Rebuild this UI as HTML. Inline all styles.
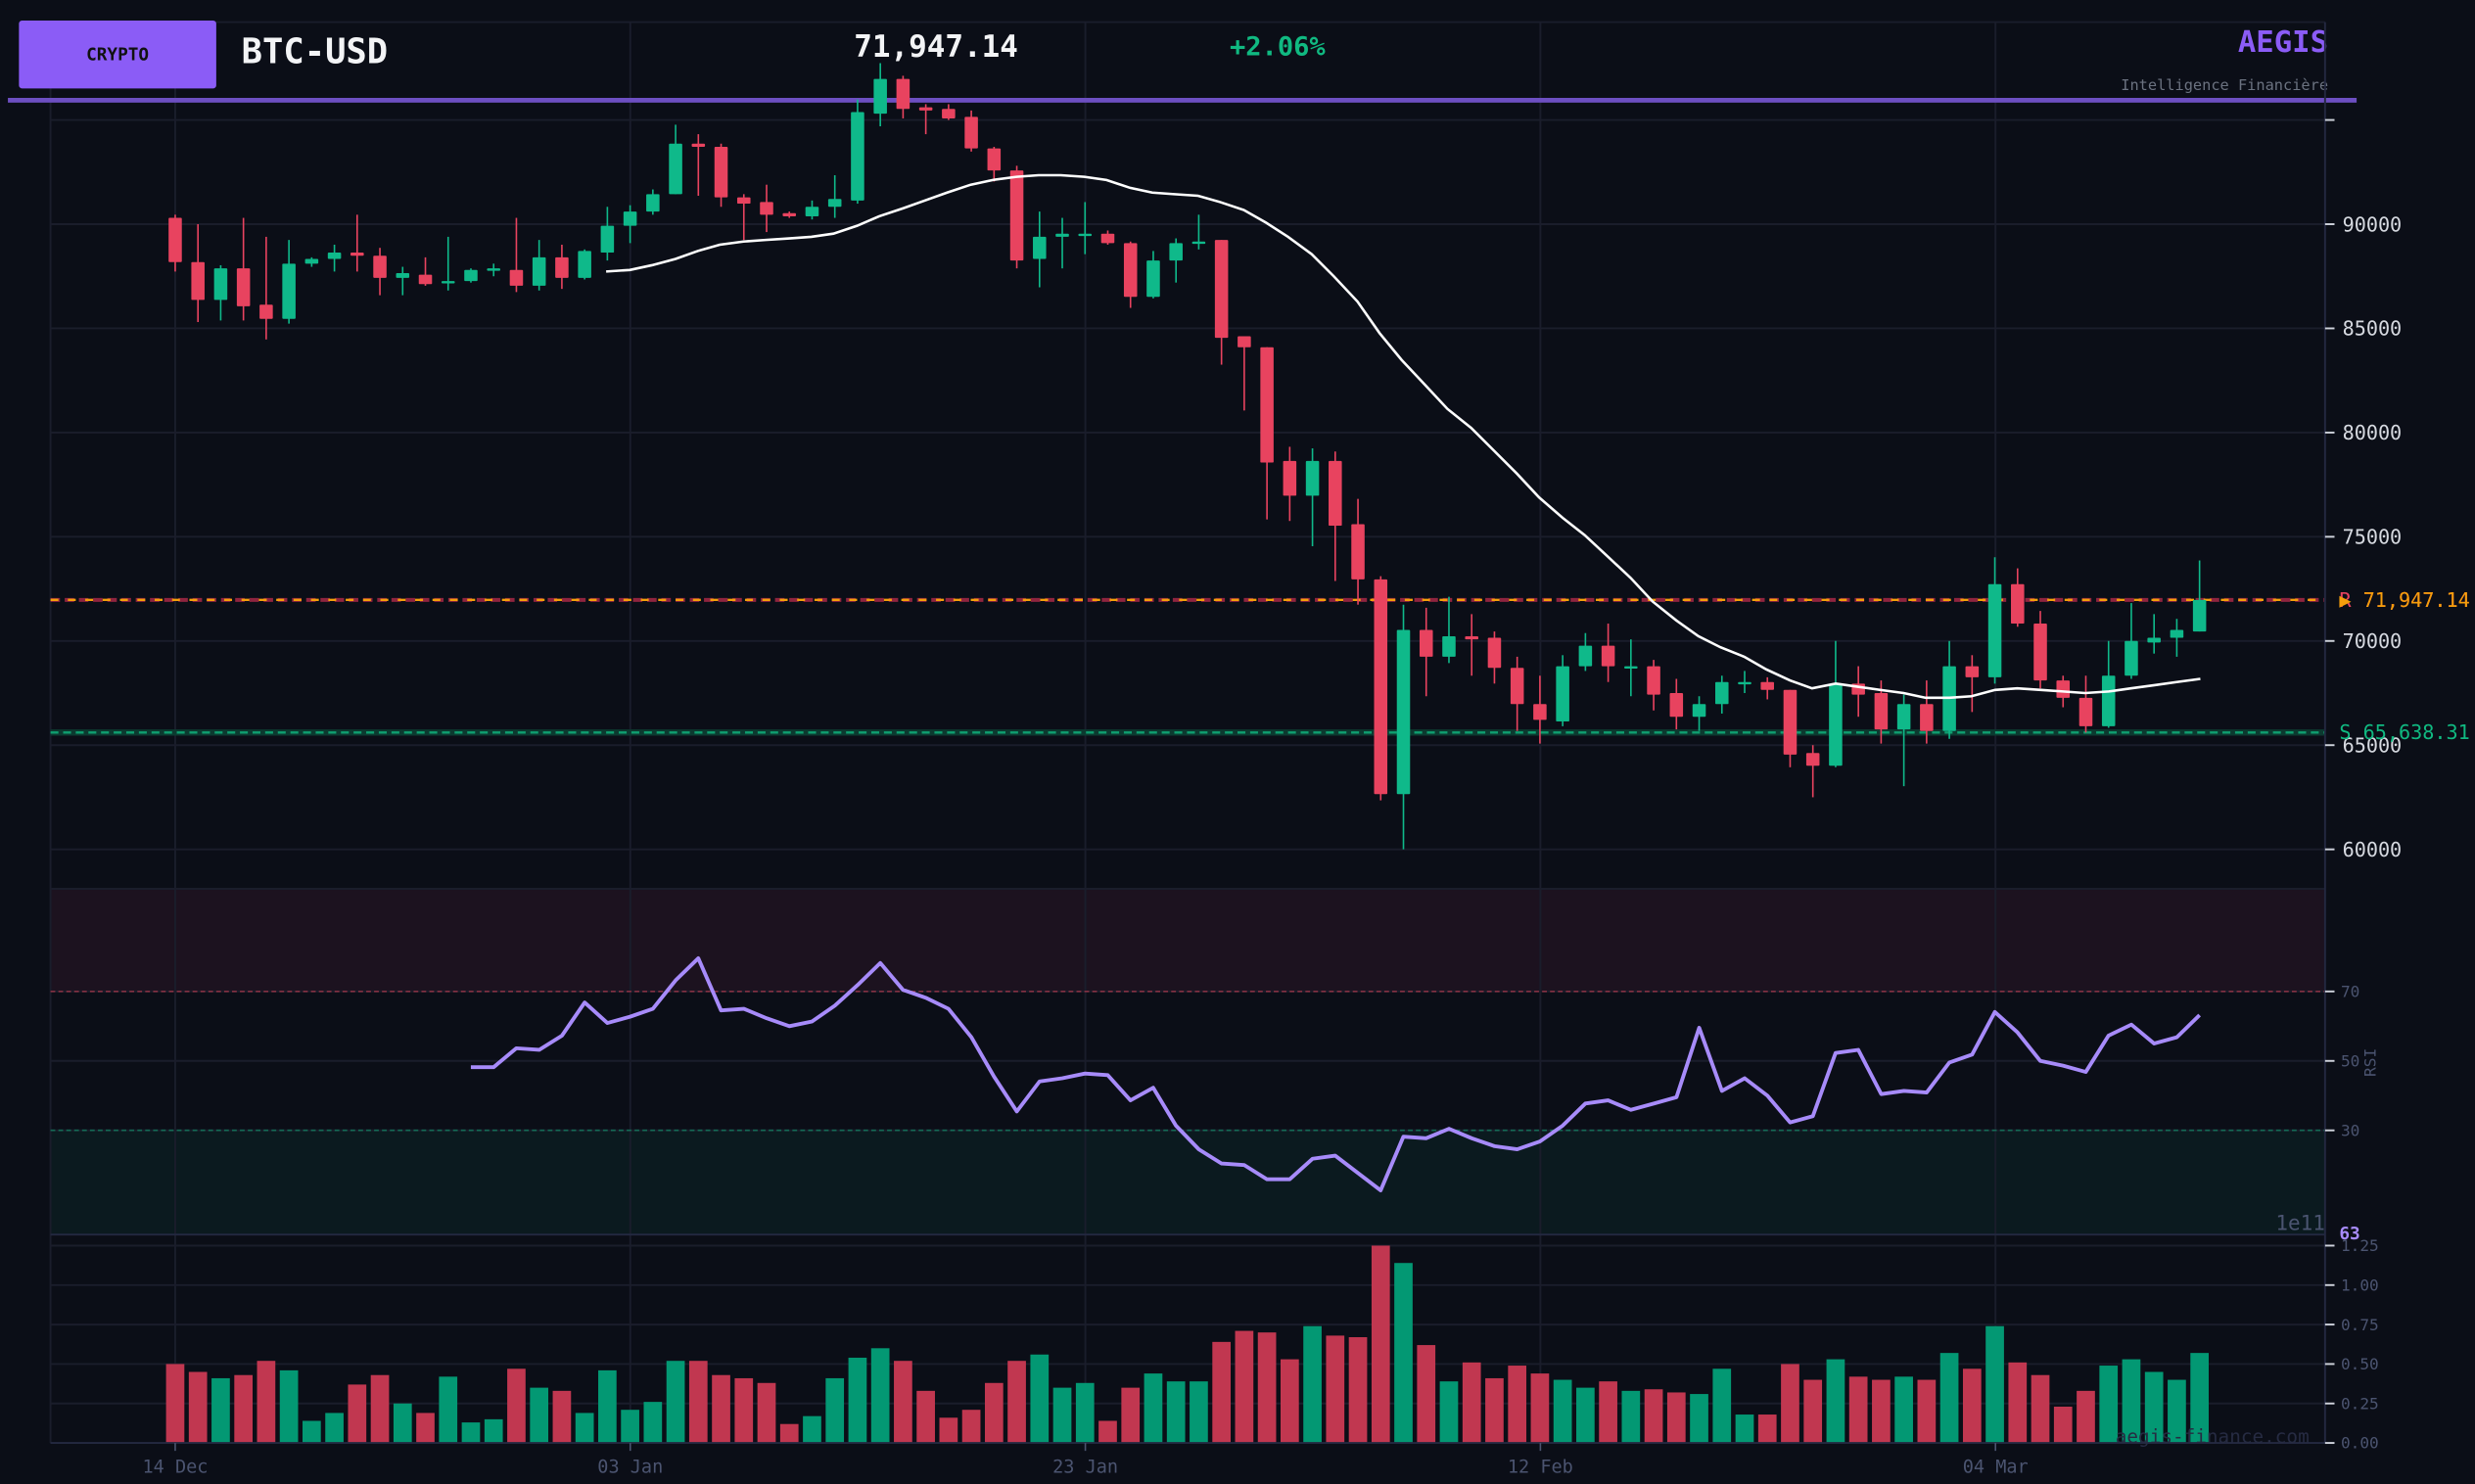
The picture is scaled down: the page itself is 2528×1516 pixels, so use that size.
<!DOCTYPE html>
<html><head><meta charset="utf-8"><style>
html,body{margin:0;padding:0;background:#0b0e17;}
svg{display:block;}
text{font-family:"DejaVu Sans Mono","Liberation Mono",monospace;}
</style></head><body>
<svg id="s" xmlns="http://www.w3.org/2000/svg" width="2528" height="1516" viewBox="0 0 1568 940" preserveAspectRatio="none">
<rect width="1568" height="940" fill="#0b0e17"/>
<rect x="32" y="563" width="1441" height="65" fill="#1c121f"/>
<rect x="32" y="716" width="1441" height="66" fill="#0b1a1f"/>
<g id="grid" stroke="#1a1d2b" stroke-width="1.2"></g>
<rect x="12" y="13" width="125" height="43" rx="2" fill="#8b5cf6"/>
<text x="74.5" y="38" font-size="11" fill="#111" text-anchor="middle" font-weight="bold">CRYPTO</text>
<text x="153" y="40" font-size="22" fill="#f3f4f6" font-weight="bold">BTC-USD</text>
<text x="541" y="36" font-size="19.2" fill="#f3f4f6" font-weight="bold">71,947.14</text>
<text x="779" y="35" font-size="16.8" fill="#10b981" font-weight="bold">+2.06%</text>
<text x="1475" y="33" font-size="19" fill="#8b5cf6" font-weight="bold" text-anchor="end">AEGIS</text>
<text x="1475" y="57" font-size="9.5" fill="#6b7280" text-anchor="end">Intelligence Financière</text>
<rect x="5" y="62" width="1488" height="3" fill="#6d4fc2"/>
<line x1="32" y1="380" x2="1473" y2="380" stroke="#b02a4a" stroke-width="2.5" stroke-dasharray="6 3" opacity="0.8"/>
<line x1="32" y1="380" x2="1473" y2="380" stroke="#f59e0b" stroke-width="1.5" stroke-dasharray="5 6"/>
<line x1="32" y1="464" x2="1473" y2="464" stroke="#0c3a30" stroke-width="4"/>
<line x1="32" y1="464" x2="1473" y2="464" stroke="#10b981" stroke-width="1.5" stroke-dasharray="5 3" opacity="0.8"/>
<g id="vol"></g>
<g id="candles"></g>
<polyline id="ma" fill="none" stroke="#ffffff" stroke-width="1.6"/>
<line x1="32" y1="628" x2="1473" y2="628" stroke="#b23a4e" stroke-width="1" stroke-dasharray="3 2" opacity="0.7"/>
<line x1="32" y1="716" x2="1473" y2="716" stroke="#10b981" stroke-width="1" stroke-dasharray="3 2" opacity="0.5"/>
<polyline id="rsi" fill="none" stroke="#a78bfa" stroke-width="2.4" stroke-linejoin="round"/>
<g stroke="#232840" stroke-width="1.2" fill="none">
<line x1="1473" y1="14" x2="1473" y2="914"/>
<line x1="32" y1="914" x2="1473" y2="914"/>
<line x1="32" y1="782" x2="1473" y2="782"/>
</g>
<g id="labels"></g>
<text x="1482" y="384.5" font-size="12.5" fill="#e8435f">R  71,947.14</text>
<text x="1482" y="384.5" font-size="12.5" fill="#f59e0b">▶ 71,947.14</text>
<text x="1482" y="468" font-size="12.5" fill="#10b981">S  65,638.31</text>
<text x="1505" y="673" font-size="10" fill="#4b5470" text-anchor="middle" transform="rotate(-90 1505 673)">RSI</text>
<text x="1473" y="779" font-size="13" fill="#4b5470" text-anchor="end">1e11</text>
<text x="1482" y="785" font-size="11" fill="#a78bfa" font-weight="bold">63</text>
<text x="1463" y="914" font-size="12" fill="#262b42" text-anchor="end">aegis-finance.com</text>
</svg>
<script>
var NS="http://www.w3.org/2000/svg";
function el(p,t,a,txt){var e=document.createElementNS(NS,t);for(var k in a)e.setAttribute(k,a[k]);if(txt!=null)e.textContent=txt;p.appendChild(e);return e;}
var X=function(i){return 111+14.41*i;};
var g=document.getElementById('grid'),lb=document.getElementById('labels');
var dates=["14 Dec","03 Jan","23 Jan","12 Feb","04 Mar"];
for(var d=0;d<5;d++){var x=111+288.3*d;el(g,'line',{x1:x,y1:14,x2:x,y2:914});
el(lb,'line',{x1:x,y1:914,x2:x,y2:919,stroke:'#4b5470','stroke-width':1});
el(lb,'text',{x:x,y:933,'font-size':11.5,fill:'#4b5470','text-anchor':'middle'},dates[d]);}
el(g,'line',{x1:32,y1:14,x2:1473,y2:14});
var py=[[76,''],[142,'90000'],[208,'85000'],[274,'80000'],[340,'75000'],[406,'70000'],[472,'65000'],[538,'60000']];
py.forEach(function(p){el(g,'line',{x1:32,y1:p[0],x2:1473,y2:p[0]});
el(lb,'line',{x1:1473,y1:p[0],x2:1479,y2:p[0],stroke:'#cfd3dc','stroke-width':1.2});
if(p[1])el(lb,'text',{x:1484,y:p[0]+4.5,'font-size':12.5,fill:'#d6d9e0'},p[1]);});
el(g,'line',{x1:32,y1:563,x2:1473,y2:563});
[[628,'70'],[672,'50'],[716,'30']].forEach(function(p){el(g,'line',{x1:32,y1:p[0],x2:1473,y2:p[0]});
el(lb,'line',{x1:1473,y1:p[0],x2:1479,y2:p[0],stroke:'#cfd3dc','stroke-width':1.2});
el(lb,'text',{x:1483,y:p[0]+3.5,'font-size':10,fill:'#4b5470'},p[1]);});
[[789,'1.25'],[814,'1.00'],[839,'0.75'],[864,'0.50'],[889,'0.25'],[914,'0.00']].forEach(function(p){el(g,'line',{x1:32,y1:p[0],x2:1473,y2:p[0]});
el(lb,'line',{x1:1473,y1:p[0],x2:1479,y2:p[0],stroke:'#cfd3dc','stroke-width':1.2});
el(lb,'text',{x:1483,y:p[0]+3.5,'font-size':10,fill:'#4b5470'},p[1]);});
el(g,'line',{x1:32,y1:14,x2:32,y2:914});
var C=[[138,166,136,172,0],[166,190,142,204,0],[170,190,168,203,1],[170,194,138,203,0],[193,202,150,215,0],[167,202,152,205,1],[164,167,163,169,1],[160,164,155,172,1],[160,162,136,172,0],[162,176,157,187,0],
[173,176,169,187,1],[174,180,163,181,0],[178,179,150,184,1],[171,178,170,179,1],[170,171,167,175,1],[171,181,138,185,0],[163,181,152,184,1],[163,176,155,183,0],[159,176,158,177,1],[143,160,131,165,1],
[134,143,130,154,1],[123,134,120,136,1],[91,123,79,123,1],[91,93,85,124,0],[93,125,91,131,0],[125,129,123,152,0],[128,136,117,147,0],[135,137,134,138,0],[131,137,127,139,1],[126,131,111,138,1],
[71,127,63,129,1],[50,72,40,80,1],[50,69,48,75,0],[68,70,66,85,0],[69,75,66,76,0],[74,94,70,96,0],[94,108,93,115,0],[108,165,105,170,0],[150,164,134,182,1],[148,150,138,170,1],
[148,149,128,161,1],[148,154,146,155,0],[154,188,153,195,0],[165,188,159,189,1],[154,165,151,179,1],[153,154,136,158,1],[152,214,152,231,0],[213,220,213,260,0],[220,293,220,329,0],[292,314,283,330,0],
[292,314,284,346,1],[292,333,286,368,0],[332,367,316,383,0],[367,503,365,507,0],[399,503,383,538,1],[399,416,385,441,0],[403,416,378,420,1],[403,405,389,428,0],[404,423,400,433,0],[423,446,416,463,0],
[446,456,428,471,0],[422,457,415,460,1],[409,422,401,425,1],[409,422,395,432,0],[422,423,405,441,1],[422,440,418,450,0],[439,454,430,462,0],[446,454,441,463,1],[432,446,428,452,1],[432,433,425,439,1],
[432,437,429,443,0],[437,478,437,486,0],[477,485,472,505,0],[433,485,406,486,1],[433,440,422,454,0],[439,462,431,471,0],[446,462,440,498,1],[446,463,431,471,0],[422,463,406,468,1],[422,429,415,451,0],
[370,429,353,433,1],[370,395,360,397,0],[395,431,387,436,0],[431,442,428,448,0],[442,460,428,464,0],[428,460,406,461,1],[406,428,382,430,1],[404,407,389,414,1],[399,404,392,416,1],[380,400,355,400,1]];
var cg=document.getElementById('candles');
C.forEach(function(c,i){var x=X(i),col=c[4]?'#0fb98a':'#e8435f';
el(cg,'line',{x1:x,y1:c[2],x2:x,y2:c[3],stroke:col,'stroke-width':1});
var h=Math.max(c[1]-c[0],1.5);el(cg,'rect',{x:x-4.2,y:c[0],width:8.4,height:h,fill:col,rx:0.6});});
var V=[[864,0],[869,0],[873,1],[871,0],[862,0],[868,1],[900,1],[895,1],[877,0],[871,0],[889,1],[895,0],[872,1],[901,1],[899,1],[867,0],[879,1],[881,0],[895,1],[868,1],
[893,1],[888,1],[862,1],[862,0],[871,0],[873,0],[876,0],[902,0],[897,1],[873,1],[860,1],[854,1],[862,0],[881,0],[898,0],[893,0],[876,0],[862,0],[858,1],[879,1],
[876,1],[900,0],[879,0],[870,1],[875,1],[875,1],[850,0],[843,0],[844,0],[861,0],[840,1],[846,0],[847,0],[789,0],[800,1],[852,0],[875,1],[863,0],[873,0],[865,0],
[870,0],[874,1],[879,1],[875,0],[881,1],[880,0],[882,0],[883,1],[867,1],[896,1],[896,0],[864,0],[874,0],[861,1],[872,0],[874,0],[872,1],[874,0],[857,1],[867,0],
[840,1],[863,0],[871,0],[891,0],[881,0],[865,1],[861,1],[869,1],[874,1],[857,1]];
var vg=document.getElementById('vol');
V.forEach(function(v,i){el(vg,'rect',{x:X(i)-5.8,y:v[0],width:11.6,height:914-v[0],fill:v[1]?'#039873':'#c13750'});});
var M=[[384,172],[399,171],[413,168],[428,164],[442,159],[456,155],[471,153],[485,152],[500,151],[514,150],[528,148],[543,143],[557,137],[572,132],[586,127],[600,122],[615,117],[629,114],[644,112],[658,111],[672,111],[687,112],[701,114],[716,119],[730,122],[744,123],[759,124],[773,128],[788,133],[802,141],[816,150],[831,161],[845,175],[860,191],[874,211],[888,228],[903,244],[917,259],[932,271],[946,285],[961,300],[975,315],[990,328],[1004,339],[1018,352],[1033,366],[1047,381],[1062,393],[1076,403],[1090,410],[1105,416],[1119,424],[1134,431],[1148,436],[1163,433],[1177,435],[1191,437],[1206,439],[1220,442],[1235,442],[1249,441],[1264,437],[1278,436],[1293,437],[1307,438],[1321,439],[1336,438],[1350,436],[1365,434],[1379,432],[1394,430]];
document.getElementById('ma').setAttribute('points',M.map(function(p){return p.join(',');}).join(' '));
var R=[676,676,664,665,656,635,648,644,639,621,607,640,639,645,650,647,637,624,610,627,632,639,657,682,704,685,683,680,681,697,689,713,728,737,738,747,747,734,732,743,754,720,721,715,721,726,728,723,713,699,697,703,699,695,651,691,683,694,711,707,667,665,693,691,692,673,668,641,654,672,675,679,656,649,661,657,643];
document.getElementById('rsi').setAttribute('points',R.map(function(y,k){return X(k+13).toFixed(1)+','+y;}).join(' '));
</script>
</body></html>
